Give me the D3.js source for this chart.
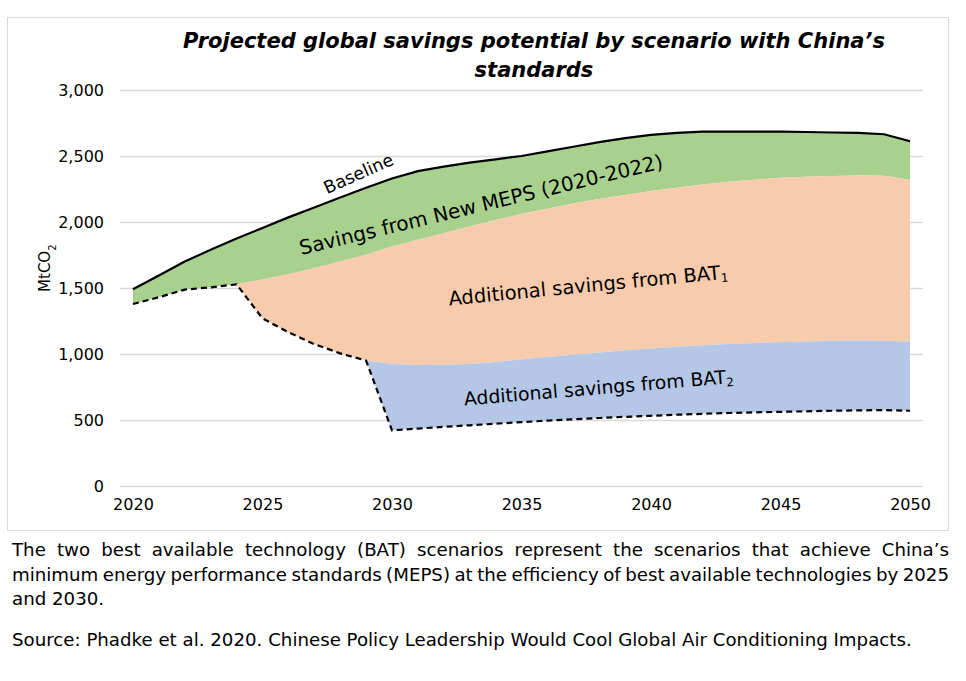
<!DOCTYPE html>
<html>
<head>
<meta charset="utf-8">
<script src="https://cdn.jsdelivr.net/npm/d3@7"></script>
<style>
  html, body { margin: 0; padding: 0; background: #fff; }
  svg { display: block; font-family: "DejaVu Sans", Verdana, sans-serif; }
</style>
</head>
<body>
<svg id="chart" width="966" height="681"></svg>
<script>
// ---------- DATA ----------
const years = [2020,2021,2022,2023,2024,2025,2026,2027,2028,2029,2030,2031,2032,2033,2034,2035,
               2036,2037,2038,2039,2040,2041,2042,2043,2044,2045,2046,2047,2048,2049,2050];
const baseline = [1490,1595,1700,1790,1875,1955,2035,2110,2185,2260,2330,2385,2420,2450,2475,2500,
                  2535,2570,2605,2635,2660,2675,2685,2685,2685,2685,2682,2678,2675,2665,2612];
const meps = [1379,1430,1488,1505,1528,1565,1605,1650,1700,1752,1815,1865,1915,1965,2015,2060,
              2100,2140,2175,2205,2235,2260,2285,2305,2320,2335,2342,2348,2352,2350,2318];
const bat1Years = [2024,2025,2026,2027,2028,2029,2030,2031,2032,2033,2034,2035,2036,2037,2038,2039,
                   2040,2041,2042,2043,2044,2045,2046,2047,2048,2049,2050];
const bat1 = [1528,1270,1165,1075,1005,950,925,917,918,925,940,960,978,995,1012,1028,
              1042,1055,1066,1075,1083,1090,1095,1100,1103,1100,1092];
const bat2Years = [2029,2030,2031,2032,2033,2034,2035,2036,2037,2038,2039,2040,2041,2042,2043,2044,
                   2045,2046,2047,2048,2049,2050];
const bat2 = [950,422,435,448,460,472,484,495,505,515,524,532,540,547,553,558,562,566,570,573,575,570];
const yTicks = [0,500,1000,1500,2000,2500,3000];
const xTickLabels = [2020,2025,2030,2035,2040,2045,2050];

const titleLines = ["Projected global savings potential by scenario with China\u2019s", "standards"];
const captionLines = [
  "The two best available technology (BAT) scenarios represent the scenarios that achieve China\u2019s",
  "minimum energy performance standards (MEPS) at the efficiency of best available technologies by 2025",
  "and 2030."
];
const sourceText = "Source: Phadke et al. 2020. Chinese Policy Leadership Would Cool Global Air Conditioning Impacts.";

// ---------- LAYOUT ----------
const svg = d3.select("#chart");
const plot = {left: 120, right: 923, top: 90, bottom: 486};

svg.append("rect").attr("x", 7.5).attr("y", 17.5).attr("width", 941).attr("height", 513)
  .attr("fill", "#fff").attr("stroke", "#d9d9d9").attr("stroke-width", 1);

const x = d3.scalePoint().domain(years).range([plot.left, plot.right]).padding(0.5);
const xl = d3.scaleLinear().domain([years[0], years[years.length - 1]]).range([x(years[0]), x(years[years.length - 1])]);
const y = d3.scaleLinear().domain([0, 3000]).range([plot.bottom, plot.top]);

// gridlines + y axis
const yAxis = d3.axisLeft(y).tickValues(yTicks).tickFormat(d3.format(",")).tickSize(-(plot.right - plot.left)).tickPadding(16);
const gy = svg.append("g").attr("transform", `translate(${plot.left},0)`).call(yAxis);
gy.select(".domain").remove();
gy.selectAll(".tick line").attr("stroke", "#d9d9d9").attr("stroke-width", 1.3);
gy.selectAll(".tick text").attr("font-size", 16).attr("fill", "#000").attr("font-family", "DejaVu Sans, Verdana, sans-serif");

// x axis
const xAxis = d3.axisBottom(x).tickValues(xTickLabels).tickSize(0).tickPadding(13);
const gx = svg.append("g").attr("transform", `translate(0,${plot.bottom})`).call(xAxis);
gx.select(".domain").remove();
gx.selectAll(".tick text").attr("font-size", 16).attr("fill", "#000").attr("font-family", "DejaVu Sans, Verdana, sans-serif");

// ---------- AREAS ----------
const areaGreen = d3.area().x((d, i) => x(years[i])).y0((d, i) => y(meps[i])).y1(d => y(d));
svg.append("path").attr("d", areaGreen(baseline)).attr("fill", "#a9d18e");

const mepsFrom = years.indexOf(2024);
const areaOrange = d3.area().x((d, i) => x(bat1Years[i])).y0(d => y(d)).y1((d, i) => y(meps[mepsFrom + i]));
svg.append("path").attr("d", areaOrange(bat1)).attr("fill", "#f8cbad");

const bat1From = bat1Years.indexOf(2029);
const areaBlue = d3.area().x((d, i) => x(bat2Years[i])).y0(d => y(d)).y1((d, i) => y(bat1[bat1From + i]));
svg.append("path").attr("d", areaBlue(bat2)).attr("fill", "#b4c7e7");

// ---------- LINES ----------
const line = d3.line().x(d => x(d[0])).y(d => y(d[1]));
svg.append("path").attr("d", line(years.map((yr, i) => [yr, baseline[i]])))
  .attr("fill", "none").attr("stroke", "#000").attr("stroke-width", 2.2);

const envelope = [];
years.forEach((yr, i) => { if (yr <= 2024) envelope.push([yr, meps[i]]); });
bat1Years.forEach((yr, i) => { if (yr > 2024 && yr <= 2029) envelope.push([yr, bat1[i]]); });
bat2Years.forEach((yr, i) => { if (yr > 2029) envelope.push([yr, bat2[i]]); });
svg.append("path").attr("d", line(envelope))
  .attr("fill", "none").attr("stroke", "#000").attr("stroke-width", 2.2).attr("stroke-dasharray", "6,4");

// ---------- AREA LABELS ----------
function rotLabel(cx, cy, angle, size, parts) {
  const t = svg.append("text").attr("transform", `translate(${cx},${cy}) rotate(${angle})`)
    .attr("text-anchor", "middle").attr("font-size", size).attr("fill", "#000");
  parts.forEach(p => {
    const ts = t.append("tspan").text(p.t);
    if (p.sub) ts.attr("font-size", size * 0.62).attr("baseline-shift", "-25%");
  });
  return t;
}
rotLabel(xl(2028.8), y(2325), -24, 17.5, [{t: "Baseline"}]);
rotLabel(xl(2033.5), y(2080), -13.5, 20, [{t: "Savings from New MEPS (2020-2022)"}]);
rotLabel(xl(2037.6), y(1470), -5.5, 19.5, [{t: "Additional savings from BAT"}, {t: "1", sub: true}]);
rotLabel(xl(2038.0), y(695), -4.8, 18.8, [{t: "Additional savings from BAT"}, {t: "2", sub: true}]);

// y axis title
const yt = svg.append("text").attr("transform", `translate(50,${y(1650)}) rotate(-90)`)
  .attr("text-anchor", "middle").attr("font-size", 15).attr("fill", "#000");
yt.append("tspan").text("MtCO");
yt.append("tspan").text("2").attr("font-size", 10).attr("baseline-shift", "sub");

// ---------- TITLE ----------
svg.append("text").attr("x", 534).attr("y", 48).attr("text-anchor", "middle")
  .attr("font-size", 21).attr("font-weight", "bold").attr("font-style", "italic").text(titleLines[0]);
svg.append("text").attr("x", 534).attr("y", 77).attr("text-anchor", "middle")
  .attr("font-size", 21).attr("font-weight", "bold").attr("font-style", "italic").text(titleLines[1]);

// ---------- CAPTION ----------
const capSize = 18.2;
const spaceW = (() => {
  const s = svg.append("text").attr("font-size", capSize).attr("opacity", 0).text("a a");
  const a = svg.append("text").attr("font-size", capSize).attr("opacity", 0).text("aa");
  const w = s.node().getComputedTextLength() - a.node().getComputedTextLength();
  s.remove(); a.remove(); return w;
})();
function justified(text, yPos, x0, x1, size, justify) {
  const words = text.split(" ");
  const g = svg.append("g");
  const nodes = words.map(w => g.append("text").attr("x", x0).attr("y", yPos).attr("font-size", size).attr("fill", "#000").text(w));
  const widths = nodes.map(n => n.node().getComputedTextLength());
  const total = d3.sum(widths);
  const gap = justify ? (x1 - x0 - total) / (words.length - 1) : spaceW;
  let cx = x0;
  nodes.forEach((n, i) => { n.attr("x", cx); cx += widths[i] + gap; });
}
justified(captionLines[0], 556, 12, 949, capSize, true);
justified(captionLines[1], 581, 12, 949, capSize, true);
justified(captionLines[2], 605, 12, 949, capSize, false);
justified(sourceText, 646, 12, 949, capSize, false);
</script>
</body>
</html>
